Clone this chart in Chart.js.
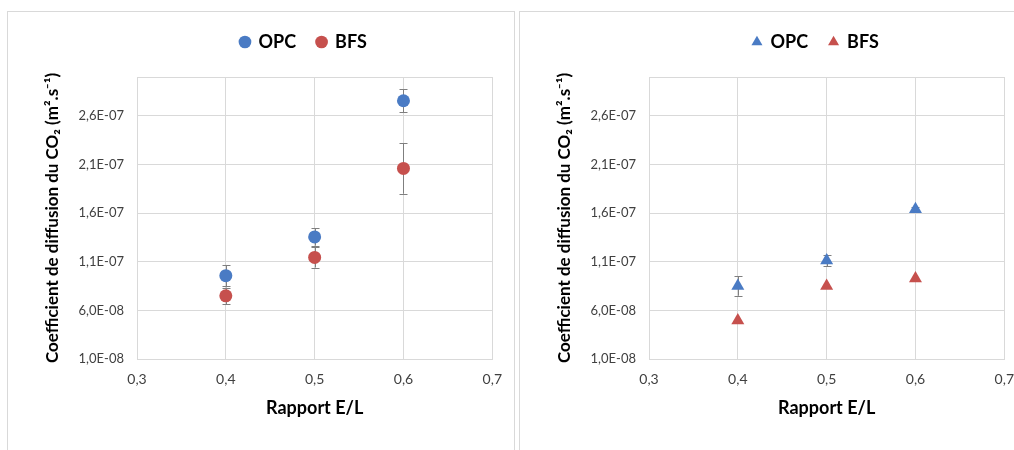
<!DOCTYPE html>
<html>
<head>
<meta charset="utf-8">
<script src="https://cdn.jsdelivr.net/npm/chart.js@4/dist/chart.umd.min.js"></script>
<style>
  body { margin: 0; background: #fff; width: 1014px; height: 450px; overflow: hidden; position: relative; }
  .panel { position: absolute; top: 11px; width: 506px; height: 450px; border: 1px solid #d9d9d9; background: #fff; }
  .panel canvas { position: absolute; left: 0; top: 0; }
</style>
</head>
<body>
<div class="panel" style="left:7px"><canvas id="chartLeft" width="506" height="438"></canvas></div>
<div class="panel" style="left:519px"><canvas id="chartRight" width="506" height="438"></canvas></div>
<script>
// E/L ratio of each sample
const ratios = [0.4, 0.5, 0.6];

// left panel (circles)
const opcLeft = [9.57e-8, 1.355e-7, 2.756e-7];
const opcLeftErr = [1.1e-8, 0.9e-8, 1.2e-8];
const bfsLeft = [7.5e-8, 1.145e-7, 2.06e-7];
const bfsLeftErr = [0.85e-8, 1.05e-8, 2.6e-8];

// right panel (triangles)
const opcRight = [8.5e-8, 1.113e-7, 1.64e-7];
const opcRightErr = [1.0e-8, 0.6e-8, 0.25e-8];
const bfsRight = [4.95e-8, 8.5e-8, 9.27e-8];
const bfsRightErr = [0, 0, 0];

const xTickValues = [0.3, 0.4, 0.5, 0.6, 0.7];
const xTickLabels = ["0,3", "0,4", "0,5", "0,6", "0,7"];
const yTickValues = [1e-8, 6e-8, 1.1e-7, 1.6e-7, 2.1e-7, 2.6e-7, 3e-7];
const yTickLabels = ["1,0E-08", "6,0E-08", "1,1E-07", "1,6E-07", "2,1E-07", "2,6E-07", ""];

const BLUE = "#4a7bc4";
const RED = "#c6504d";
const GRID = "#d9d9d9";
const FONT = "Lato, 'Open Sans', sans-serif";

function points(values) {
  return values.map((v, i) => ({ x: ratios[i], y: v }));
}

// vertical error bars with caps, drawn under the markers
const errorBars = {
  id: "errorBars",
  beforeDatasetsDraw(chart) {
    const ctx = chart.ctx;
    const xs = chart.scales.x, ys = chart.scales.y;
    ctx.save();
    ctx.strokeStyle = "#7f7f7f";
    ctx.lineWidth = 1;
    chart.data.datasets.forEach(ds => {
      ds.data.forEach((p, i) => {
        const e = ds.errors[i];
        if (!e) return;
        const x = Math.round(xs.getPixelForValue(p.x)) + 0.5;
        const top = ys.getPixelForValue(p.y + e);
        const bot = ys.getPixelForValue(p.y - e);
        ctx.beginPath();
        ctx.moveTo(x, top); ctx.lineTo(x, bot);
        ctx.moveTo(x - 4, Math.round(top) + 0.5); ctx.lineTo(x + 4, Math.round(top) + 0.5);
        ctx.moveTo(x - 4, Math.round(bot) + 0.5); ctx.lineTo(x + 4, Math.round(bot) + 0.5);
        ctx.stroke();
      });
    });
    ctx.restore();
  }
};

// centre the legend over the plot area, as in the original
const legendShift = {
  id: "legendShift",
  afterLayout(chart) {
    const lg = chart.legend;
    lg.left = chart.chartArea.left - 22;
    lg.right = chart.chartArea.right;
    lg.width = lg.right - lg.left;
  }
};

function makeChart(id, opc, opcErr, bfs, bfsErr, style, radius) {
  const ctx = document.getElementById(id).getContext("2d");
  return new Chart(ctx, {
    type: "scatter",
    data: {
      datasets: [
        {
          label: "OPC",
          data: points(opc),
          errors: opcErr,
          backgroundColor: BLUE,
          borderColor: BLUE,
          borderWidth: 0,
          pointStyle: style,
          pointRadius: radius,
        },
        {
          label: "BFS",
          data: points(bfs),
          errors: bfsErr,
          backgroundColor: RED,
          borderColor: RED,
          borderWidth: 0,
          pointStyle: style,
          pointRadius: radius,
        },
      ],
    },
    options: {
      responsive: false,
      animation: false,
      layout: { padding: { top: 0, left: 0, right: 20, bottom: 0 } },
      plugins: {
        tooltip: { enabled: false },
        legend: {
          position: "top",
          labels: {
            usePointStyle: true,
            boxWidth: 9,
            boxHeight: 9,
            padding: 21,
            color: "#000",
            font: { family: FONT, size: 18, weight: "bold" },
          },
        },
      },
      scales: {
        x: {
          type: "linear",
          position: "bottom",
          min: 0.3,
          max: 0.7,
          afterBuildTicks: s => { s.ticks = xTickValues.map(v => ({ value: v })); },
          afterFit: s => { s.height = 91; },
          ticks: {
            padding: 12,
            color: "#404040",
            font: { family: FONT, size: 14 },
            callback: (v, i) => xTickLabels[i],
          },
          grid: { color: GRID, drawTicks: false },
          border: { color: GRID },
          title: {
            display: true,
            text: "Rapport E/L",
            color: "#000",
            font: { family: FONT, size: 18, weight: "bold" },
            padding: { top: 0, bottom: 31 },
          },
        },
        gap: {
          type: "linear",
          position: "top",
          display: true,
          afterFit: s => { s.height = 16; },
          ticks: { display: false },
          grid: { display: false, drawTicks: false },
          border: { display: false },
        },
        y: {
          type: "linear",
          min: 1e-8,
          max: 3e-7,
          afterBuildTicks: s => { s.ticks = yTickValues.map(v => ({ value: v })); },
          afterFit: s => { s.width = 129; },
          ticks: {
            padding: 13,
            color: "#404040",
            font: { family: FONT, size: 13 },
            callback: (v, i) => yTickLabels[i],
          },
          grid: { color: GRID, drawTicks: false },
          border: { color: GRID },
          title: {
            display: true,
            text: "Coefficient de diffusion du CO\u2082 (m\u00b2.s\u207b\u00b9)",
            color: "#000",
            font: { family: FONT, size: 17, weight: "bold" },
            padding: { top: 34, bottom: 0 },
          },
        },
      },
    },
    plugins: [errorBars, legendShift],
  });
}

makeChart("chartLeft", opcLeft, opcLeftErr, bfsLeft, bfsLeftErr, "circle", 6.5);
makeChart("chartRight", opcRight, opcRightErr, bfsRight, bfsRightErr, "triangle", 7.5);
</script>
</body>
</html>
